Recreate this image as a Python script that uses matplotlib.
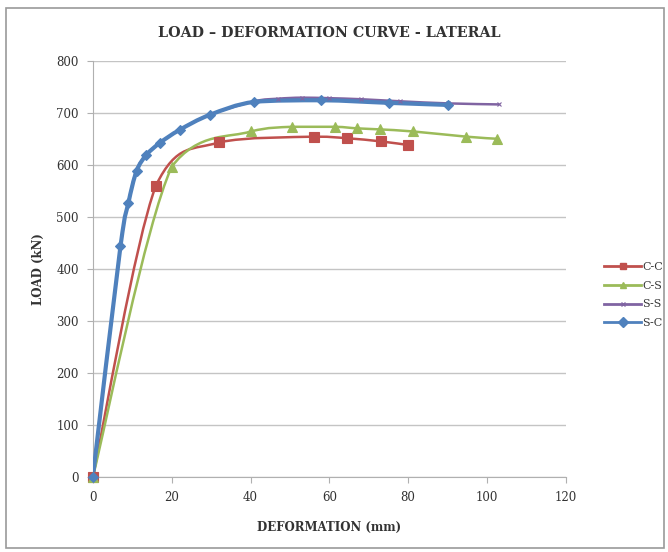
import numpy as np
import matplotlib
matplotlib.use("Agg")
import matplotlib.pyplot as plt
from matplotlib.path import Path
from matplotlib.patches import PathPatch, Rectangle
from matplotlib.lines import Line2D

# data
cc_x = [0, 16, 32, 56, 64.5, 73, 80]
cc_y = [0, 560, 643, 654, 651, 645, 638]

cs_x = [0, 20, 40, 50.5, 61.5, 67, 72.8, 81.3, 94.8, 102.5]
cs_y = [0, 596, 664, 673, 673, 670, 668, 664, 654, 650]

ss_x = [0, 7, 9, 11, 13.5, 17, 22, 30, 41, 47, 53, 60, 68, 78, 90, 103]
ss_y = [0, 442, 526, 588, 619, 642, 667, 697, 722, 727, 729, 728, 726, 722, 718, 716]

sc_x = [0, 7, 9, 11.1, 13.6, 17, 22, 29.7, 41, 58, 75.2, 90.2]
sc_y = [0, 443, 526, 588, 619, 642, 667, 696, 721, 724, 719, 715]

series = [
    ("C-C", cc_x, cc_y, "#C0504D", "s", 7, 1.8),
    ("C-S", cs_x, cs_y, "#9BBB59", "^", 7, 1.8),
    ("S-S", ss_x, ss_y, "#8064A2", "x", 3, 1.8),
    ("S-C", sc_x, sc_y, "#4F81BD", "D", 5, 3.0),
]


def smooth_path(x, y):
    # smoothed line: cubic bezier through the points, controls kept inside each segment
    p = np.column_stack([x, y]).astype(float)
    n = len(p)
    verts = [p[0]]
    codes = [Path.MOVETO]
    for i in range(n - 1):
        p0 = p[i - 1] if i > 0 else p[i]
        p3 = p[i + 2] if i + 2 < n else p[i + 1]
        c1 = p[i] + (p[i + 1] - p0) / 6.0
        c2 = p[i + 1] - (p3 - p[i]) / 6.0
        lo = np.minimum(p[i], p[i + 1])
        hi = np.maximum(p[i], p[i + 1])
        c1 = np.clip(c1, lo, hi)
        c2 = np.clip(c2, lo, hi)
        verts += [c1, c2, p[i + 1]]
        codes += [Path.CURVE4] * 3
    return Path(verts, codes)


fig = plt.figure(figsize=(6.68, 5.52), dpi=100)
ax = fig.add_axes([0.139, 0.136, 0.708, 0.754])

fig.patches.append(Rectangle((0.009, 0.007), 0.985, 0.978, transform=fig.transFigure,
                             fill=False, edgecolor="#9a9a9a", linewidth=1.2))

serif = "DejaVu Serif"
handles = []
for name, xs, ys, col, mk, ms, lw in series:
    ax.add_patch(PathPatch(smooth_path(xs, ys), fill=False, edgecolor=col,
                           linewidth=lw, capstyle="round", joinstyle="round", zorder=3))
    ax.plot(xs, ys, linestyle="none", marker=mk, color=col, markersize=ms,
            markeredgecolor=col, markeredgewidth=0.8, zorder=4, clip_on=False)
    handles.append(Line2D([0], [0], color=col, linewidth=2.0, marker=mk,
                          markersize=5 if mk != "x" else 3, label=name))

ax.set_xlim(0, 120)
ax.set_ylim(0, 800)
ax.set_xticks(np.arange(0, 121, 20))
ax.set_yticks(np.arange(0, 801, 100))
ax.yaxis.grid(True, color="#c4c4c4", linewidth=1.0)
ax.set_axisbelow(True)
for s in ["top", "right"]:
    ax.spines[s].set_visible(False)
for s in ["left", "bottom"]:
    ax.spines[s].set_color("#b0b0b0")
ax.tick_params(axis="both", colors="#b0b0b0", length=4, labelcolor="#333333",
               labelsize=8.5, pad=6)
for lab in ax.get_xticklabels() + ax.get_yticklabels():
    lab.set_family(serif)

ax.set_title("LOAD \u2013 DEFORMATION CURVE - LATERAL", family=serif,
             fontweight="bold", fontsize=10.3, color="#333333", pad=17)
ax.set_xlabel("DEFORMATION (mm)", family=serif, fontweight="bold",
              fontsize=8.5, color="#333333", labelpad=12)
ax.set_ylabel("LOAD (kN)", family=serif, fontweight="bold",
              fontsize=8.5, color="#333333", labelpad=8)

fig.legend(handles=handles, loc="upper left", bbox_to_anchor=(0.893, 0.54),
           frameon=False, prop={"family": serif, "size": 8}, handlelength=3.3,
           handletextpad=0.1, labelspacing=0.8, labelcolor="#333333",
           borderpad=0.2)

fig.savefig("out.png", dpi=100, facecolor="white")
